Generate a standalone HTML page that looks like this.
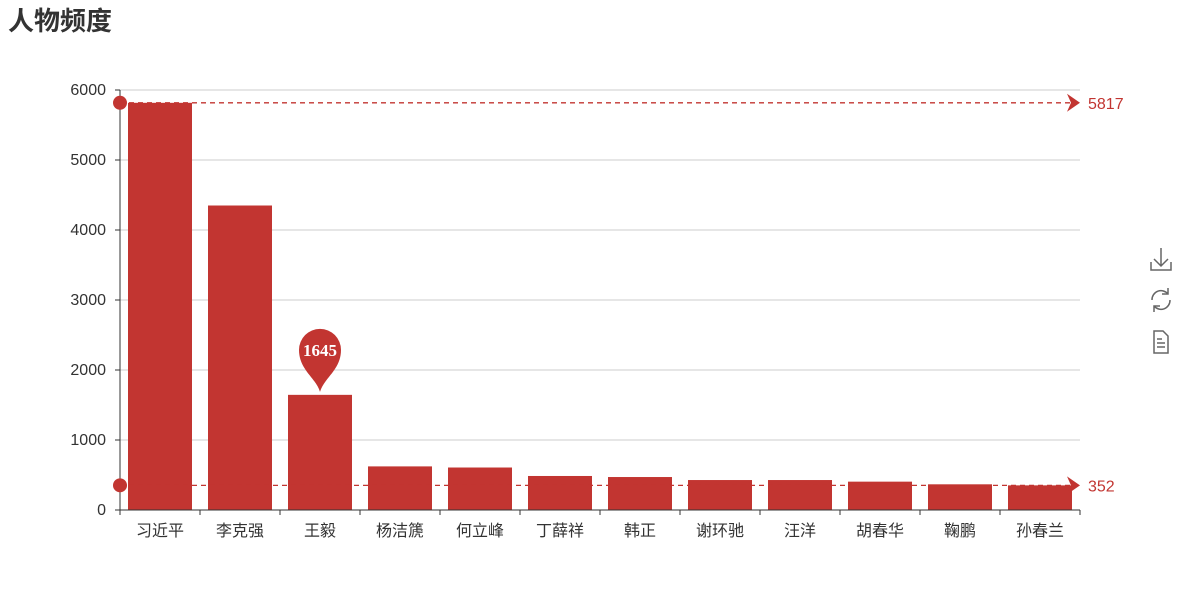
<!DOCTYPE html>
<html><head><meta charset="utf-8"><style>
body{margin:0;background:#fff;}
svg{display:block;font-family:"Liberation Sans","Noto Sans CJK SC",sans-serif;}
</style></head><body>
<svg id="c" width="1200" height="600">
<text x="8" y="30" font-size="26" font-weight="bold" fill="#333">人物频度</text>
<g id="grid"></g><g id="bars"></g><g id="axes"></g><g id="marks"></g>
<g stroke="#666" stroke-width="1.5" fill="none">
<g><path d="M1161 248v17M1154 259l7 7 7-7M1151 262v8h20v-8"/></g>
<g><path d="M1152 300a9 9 0 0 1 16-6M1170 300a9 9 0 0 1-16 6M1168 288v6h-6M1154 312v-6h6"/></g>
<g><path d="M1154 331h9l5 5v17h-14zM1157 339h5M1157 343h8M1157 347h8"/></g>
</g>
</svg>
<script>
const categories=["习近平","李克强","王毅","杨洁篪","何立峰","丁薛祥","韩正","谢环驰","汪洋","胡春华","鞠鹏","孙春兰"];
const values=[5817,4350,1645,623,607,486,471,428,428,405,367,352];
const yTicks=[0,1000,2000,3000,4000,5000,6000];
const X0=120,X1=1080,Y0=510,Y1=90,YMAX=6000;
const NS="http://www.w3.org/2000/svg";
const band=(X1-X0)/categories.length;
const xc=i=>X0+band*(i+0.5);
const y=v=>Y0-(v/YMAX)*(Y0-Y1);
function mk(p,tag,a,t){const e=document.createElementNS(NS,tag);for(const k in a)e.setAttribute(k,a[k]);if(t!==undefined)e.textContent=t;document.getElementById(p).appendChild(e);return e;}
yTicks.forEach(t=>{
 if(t>0){const l=mk('grid','line',{x1:X0,x2:X1,y1:y(t),y2:y(t),stroke:'#ccc'});
 
 }
 const tx=mk('axes','text',{x:X0-14,y:y(t)+5,'text-anchor':'end','font-size':16,fill:'#333'},t);
 
 
 mk('axes','line',{x1:X0-5,x2:X0,y1:y(t),y2:y(t),stroke:'#333'});
});
mk('axes','line',{x1:X0,x2:X0,y1:Y1,y2:Y0,stroke:'#333'});
mk('axes','line',{x1:X0,x2:X1,y1:Y0,y2:Y0,stroke:'#333'});
categories.forEach((c,i)=>{
 const b=mk('bars','rect',{x:xc(i)-32,y:y(values[i]),width:64,height:Y0-y(values[i]),fill:'#c23531'});
 
 
 mk('axes','line',{x1:X0+band*i,x2:X0+band*i,y1:Y0,y2:Y0+5,stroke:'#333'});
 const t=mk('axes','text',{x:xc(i),y:Y0+26,'text-anchor':'middle','font-size':16,fill:'#333'},c);
 
 
});
mk('axes','line',{x1:X1,x2:X1,y1:Y0,y2:Y0+5,stroke:'#333'});
const mx=Math.max(...values),mn=Math.min(...values);
[mx,mn].forEach((v,k)=>{
 const yy=y(v);
 const l=mk('marks','line',{x1:X0,x2:X1-10,y1:yy,y2:yy,stroke:'#c23531','stroke-dasharray':'5,4','stroke-width':1.3});
 
 
 mk('marks','circle',{cx:X0,cy:yy,r:7,fill:'#c23531'});
 mk('marks','path',{d:`M${X1-13} ${yy-9}L${X1} ${yy}L${X1-13} ${yy+9}L${X1-9} ${yy}Z`,fill:'#c23531'});
 const t=mk('marks','text',{x:X1+8,y:yy+6,'font-size':16,fill:'#c23531'},v);
 
 
});
const pi=2,px=xc(pi),py=y(values[pi])-3;
const pin=mk('marks','path',{d:`M${px} ${py}C${px-4} ${py-14} ${px-21} ${py-22} ${px-21} ${py-42}A21 21 0 1 1 ${px+21} ${py-42}C${px+21} ${py-22} ${px+4} ${py-14} ${px} ${py}Z`,fill:'#c23531'});


const pt=mk('marks','text',{x:px,y:py-36,'text-anchor':'middle','font-size':17,'font-weight':'bold',fill:'#fff','font-family':'Liberation Serif,serif'},values[pi]);


</script>
</body></html>
